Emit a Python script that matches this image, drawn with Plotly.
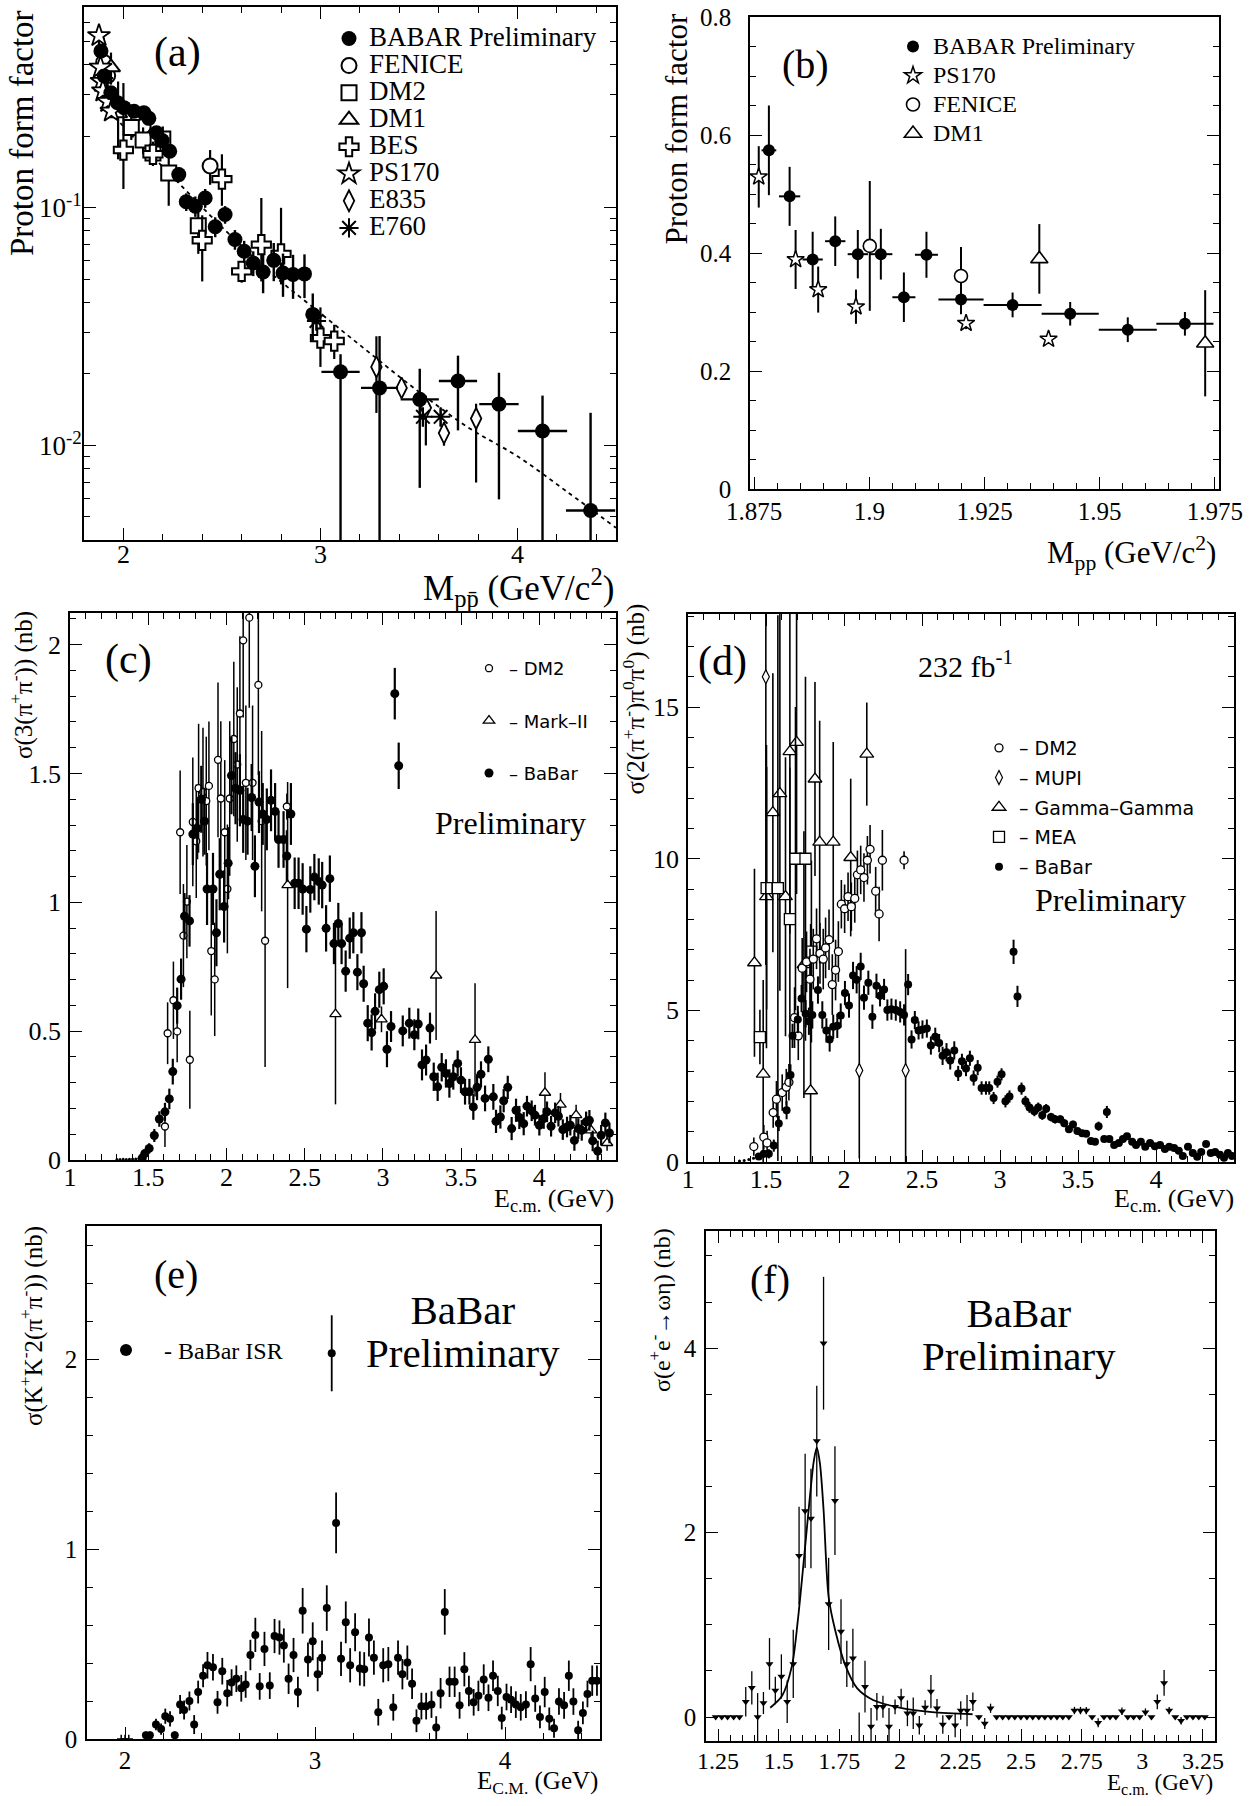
import math
import plotly.graph_objects as go

W, H = 1255, 1806
SERIF = "Liberation Serif"
SANS = "DejaVu Sans"

# ======================= Panel (a) data =======================
a_babar_x = [1.886, 1.903, 1.936, 1.970, 2.003, 2.054, 2.104, 2.129, 2.168, 2.197,
             2.235, 2.281, 2.319, 2.365, 2.415, 2.466, 2.516, 2.566, 2.613, 2.659,
             2.709, 2.763, 2.810, 2.861, 2.919, 2.961, 3.102, 3.300, 3.504, 3.698,
             3.906, 4.127, 4.371]
a_babar_y = [0.457, 0.359, 0.305, 0.277, 0.264, 0.255, 0.251, 0.238, 0.207, 0.192,
             0.173, 0.138, 0.106, 0.1016, 0.110, 0.0832, 0.0937, 0.0736, 0.0656, 0.0586,
             0.0537, 0.0601, 0.0532, 0.0524, 0.0527, 0.0356, 0.0204, 0.01746, 0.01563, 0.01867,
             0.01493, 0.01151, 0.00532]
a_babar_eup = [0.03, 0.025, 0.02, 0.02, 0.018, 0.015, 0.015, 0.014, 0.013, 0.012,
               0.011, 0.01, 0.009, 0.01, 0.01, 0.008, 0.008, 0.007, 0.007, 0.007,
               0.01, 0.011, 0.011, 0.011, 0.011, 0.008, 0.0038, 0.0114, 0.0054, 0.0052,
               0.0053, 0.0047, 0.0084]
a_babar_edn = [0.03, 0.025, 0.02, 0.02, 0.018, 0.015, 0.015, 0.014, 0.013, 0.012,
               0.011, 0.01, 0.009, 0.01, 0.01, 0.008, 0.008, 0.007, 0.007, 0.007,
               0.01, 0.011, 0.011, 0.011, 0.011, 0.008, 0.0174, 0.0145, 0.009, 0.0071,
               0.009, 0.0085, 0.0023]
a_babar_ex = [0, 0, 0, 0, 0, 0, 0, 0, 0, 0,
              0, 0, 0, 0, 0, 0, 0, 0, 0, 0,
              0, 0, 0, 0, 0, 0, 0.097, 0.094, 0.097, 0.097,
              0.1, 0.125, 0.125]

a_fenice_x = [1.90, 1.92, 2.10, 2.44]
a_fenice_y = [0.41, 0.36, 0.22, 0.15]
a_fenice_e = [0.11, 0.05, 0.03, 0.025]

a_dm2_x = [2.04, 2.10, 2.15, 2.20, 2.23, 2.38]
a_dm2_y = [0.218, 0.193, 0.170, 0.195, 0.140, 0.084]
a_dm2_e = [0.025, 0.025, 0.02, 0.025, 0.038, 0.02]

a_dm1_x = [1.937, 1.973]
a_dm1_y = [0.39, 0.25]
a_dm1_e = [0.06, 0.09]

a_bes_x = [2.0, 2.15, 2.4, 2.5, 2.6, 2.7, 2.8, 3.0, 3.07]
a_bes_y = [0.175, 0.168, 0.073, 0.132, 0.054, 0.070, 0.064, 0.0283, 0.0275]
a_bes_eup = [0.16, 0.015, 0.02, 0.036, 0.005, 0.04, 0.036, 0.0098, 0.0047]
a_bes_edn = [0.055, 0.015, 0.024, 0.03, 0.0056, 0.021, 0.0164, 0.0069, 0.0044]

a_ps170_x = [1.876, 1.884, 1.889, 1.896, 1.921, 1.939]
a_ps170_y = [0.53, 0.39, 0.34, 0.31, 0.28, 0.255]
a_ps170_e = [0.05, 0.05, 0.04, 0.03, 0.01, 0.006]

a_e835_x = [3.284, 3.412, 3.535, 3.627, 3.790]
a_e835_y = [0.0214, 0.01746, 0.0144, 0.01127, 0.01298]
a_e835_eup = [0.0074, 0.0015, 0.0018, 0.0013, 0.0020]
a_e835_edn = [0.0077, 0.0015, 0.0044, 0.0013, 0.0060]

a_e760_x = [2.98, 3.52, 3.61]
a_e760_y = [0.0334, 0.0132, 0.0132]
a_e760_e = [0.003, 0.0012, 0.0012]

a_fit_x = [1.88, 2.0, 2.25, 2.5, 2.75, 3.0, 3.25, 3.5, 3.75, 4.0, 4.25, 4.5]
a_fit_y = [0.29, 0.22, 0.135, 0.083, 0.053, 0.036, 0.0245, 0.0168, 0.0119, 0.0090, 0.0064, 0.0045]

# ======================= Panel (b) data =======================
b_babar_x = [1.8782, 1.8827, 1.8877, 1.8926, 1.8975, 1.9025, 1.9075, 1.9124, 1.9199, 1.9311,
             1.9436, 1.9561, 1.9685]
b_babar_y = [0.574, 0.496, 0.389, 0.420, 0.398, 0.398, 0.325, 0.397, 0.321, 0.312,
             0.297, 0.270, 0.280]
b_babar_ey = [0.076, 0.05, 0.047, 0.042, 0.041, 0.043, 0.042, 0.039, 0.025, 0.021,
              0.02, 0.021, 0.02]
b_babar_ex = [0.0016, 0.0023, 0.0022, 0.0022, 0.0022, 0.0025, 0.0025, 0.0025, 0.0049, 0.0063,
              0.0062, 0.0063, 0.0062]
b_ps170_x = [1.8760, 1.8840, 1.8889, 1.8971, 1.9210, 1.9389]
b_ps170_y = [0.529, 0.389, 0.338, 0.309, 0.281, 0.254]
b_ps170_e = [0.052, 0.05, 0.039, 0.029, 0.01, 0.006]
b_fenice_x = [1.9001, 1.9199]
b_fenice_y = [0.412, 0.361]
b_fenice_e = [0.11, 0.049]
b_dm1_x = [1.9369, 1.9729]
b_dm1_y = [0.390, 0.247]
b_dm1_e = [0.059, 0.09]

# ======================= Panel (c) data =======================
c_thr_x = [1.30, 1.32, 1.34, 1.36, 1.38, 1.40, 1.42, 1.44]
c_thr_y = [0.002, 0.002, 0.003, 0.002, 0.003, 0.004, 0.004, 0.006]

c_babar_x = [1.462, 1.478, 1.506, 1.539, 1.571, 1.607, 1.635, 1.657, 1.685, 1.710,
             1.732, 1.764, 1.785, 1.813, 1.839, 1.860, 1.876, 1.914, 1.936, 1.957,
             1.985, 2.011, 2.032, 2.058, 2.086, 2.107, 2.135, 2.161, 2.182, 2.208,
             2.232, 2.258, 2.285, 2.311, 2.333, 2.365, 2.386, 2.412, 2.436, 2.461,
             2.487, 2.511, 2.536, 2.562, 2.590, 2.612, 2.637, 2.661, 2.687, 2.715,
             2.736, 2.762, 2.788, 2.811, 2.837, 2.863, 2.877, 2.903, 2.928, 2.950,
             2.977, 3.005, 3.026, 3.052, 3.076, 3.101, 3.127, 3.169, 3.201, 3.226,
             3.250, 3.276, 3.301, 3.325, 3.350, 3.376, 3.403, 3.425, 3.450, 3.478,
             3.499, 3.525, 3.553, 3.578, 3.602, 3.627, 3.653, 3.674, 3.706, 3.723,
             3.751, 3.772, 3.798, 3.823, 3.851, 3.872, 3.900, 3.921, 3.951, 3.972,
             4.000, 4.028, 4.049, 4.075, 4.101, 4.122, 4.150, 4.177, 4.198, 4.224,
             4.249, 4.271, 4.299, 4.320, 4.341, 4.373, 4.395, 4.422, 4.448]
c_babar_y = [0.008, 0.025, 0.045, 0.095, 0.159, 0.187, 0.237, 0.343, 0.599, 0.702,
             0.946, 0.928, 1.265, 1.287, 1.400, 1.315, 1.052, 1.052, 0.882, 1.109,
             0.984, 1.152, 1.492, 1.443, 1.435, 1.322, 1.315, 1.407, 1.140, 1.389,
             1.343, 1.322, 1.396, 1.353, 1.244, 1.244, 1.180, 1.343, 1.074, 1.074,
             1.052, 0.896, 1.050, 1.098, 1.081, 1.067, 0.899, 1.092, 0.840, 0.918,
             0.840, 0.733, 0.861, 0.882, 0.729, 0.882, 0.684, 0.531, 0.495, 0.577,
             0.661, 0.674, 0.430, 0.518, 1.810, 1.530, 0.501, 0.531, 0.486, 0.528,
             0.369, 0.388, 0.512, 0.323, 0.284, 0.360, 0.336, 0.297, 0.323, 0.375,
             0.310, 0.265, 0.265, 0.206, 0.282, 0.333, 0.239, 0.391, 0.245, 0.150,
             0.167, 0.230, 0.282, 0.122, 0.193, 0.165, 0.141, 0.209, 0.191, 0.174,
             0.135, 0.161, 0.187, 0.131, 0.183, 0.170, 0.118, 0.128, 0.135, 0.076,
             0.122, 0.115, 0.148, 0.154, 0.074, 0.035, 0.096, 0.144, 0.105]
c_babar_e = [0.01, 0.015, 0.02, 0.025, 0.03, 0.035, 0.04, 0.05, 0.07, 0.08,
             0.09, 0.1, 0.12, 0.12, 0.13, 0.13, 0.14, 0.14, 0.13, 0.14,
             0.14, 0.14, 0.15, 0.14, 0.14, 0.13, 0.13, 0.13, 0.12, 0.12,
             0.12, 0.12, 0.12, 0.11, 0.11, 0.11, 0.1, 0.12, 0.1, 0.1,
             0.1, 0.09, 0.09, 0.09, 0.09, 0.09, 0.09, 0.09, 0.08, 0.08,
             0.08, 0.08, 0.08, 0.08, 0.07, 0.08, 0.07, 0.07, 0.07, 0.07,
             0.07, 0.07, 0.07, 0.06, 0.1, 0.09, 0.06, 0.06, 0.06, 0.06,
             0.06, 0.06, 0.06, 0.055, 0.055, 0.055, 0.055, 0.055, 0.05, 0.05,
             0.05, 0.05, 0.05, 0.05, 0.05, 0.05, 0.05, 0.05, 0.05, 0.045,
             0.045, 0.045, 0.045, 0.045, 0.045, 0.045, 0.045, 0.04, 0.04, 0.04,
             0.04, 0.04, 0.04, 0.04, 0.04, 0.04, 0.04, 0.04, 0.04, 0.04,
             0.04, 0.04, 0.04, 0.04, 0.04, 0.04, 0.04, 0.04, 0.04]

c_dm2_x = [1.607, 1.624, 1.661, 1.685, 1.704, 1.725, 1.747, 1.766, 1.785, 1.807,
           1.822, 1.850, 1.871, 1.888, 1.903, 1.925, 1.946, 1.964, 1.989, 2.006,
           2.021, 2.047, 2.069, 2.086, 2.107, 2.124, 2.146, 2.167, 2.204, 2.225,
           2.247, 2.386]
c_dm2_y = [0.130, 0.492, 0.620, 0.499, 1.272, 0.871, 1.003, 0.389, 1.312, 1.237,
           1.443, 1.428, 1.393, 1.452, 0.811, 0.701, 1.553, 1.403, 1.272, 1.052,
           1.403, 1.634, 1.535, 1.733, 2.017, 1.464, 2.105, 1.464, 1.844, 1.315,
           0.851, 1.372]
c_dm2_e = [0.08, 0.12, 0.15, 0.12, 0.24, 0.2, 0.22, 0.19, 0.25, 0.22,
           0.25, 0.25, 0.25, 0.25, 0.25, 0.22, 0.3, 0.3, 0.28, 0.25,
           0.3, 0.3, 0.3, 0.3, 0.3, 0.3, 0.35, 0.3, 0.35, 0.35,
           0.49, 0.05]

c_mk2_x = [2.391, 2.697, 2.991, 3.340, 3.589, 4.036, 4.135, 4.235, 4.331, 4.433]
c_mk2_y = [1.067, 0.566, 0.546, 0.716, 0.466, 0.261, 0.215, 0.174, 0.115, 0.066]
c_mk2_e = [0.4, 0.35, 0.05, 0.25, 0.22, 0.08, 0.045, 0.04, 0.03, 0.03]

# ======================= Panel (d) data =======================
d_thr_x = [1.33, 1.36, 1.39, 1.42]
d_thr_y = [0.03, 0.05, 0.08, 0.12]

d_babar_x = [1.454, 1.486, 1.518, 1.550, 1.582, 1.632, 1.657, 1.670, 1.704, 1.728,
             1.754, 1.775, 1.797, 1.833, 1.861, 1.887, 1.908, 1.931, 1.957, 1.979,
             2.006, 2.032, 2.058, 2.081, 2.107, 2.128, 2.156, 2.182, 2.208, 2.231,
             2.257, 2.278, 2.304, 2.332, 2.360, 2.385, 2.411, 2.433, 2.454, 2.478,
             2.503, 2.531, 2.557, 2.585, 2.610, 2.632, 2.657, 2.681, 2.707, 2.732,
             2.756, 2.782, 2.807, 2.831, 2.857, 2.882, 2.910, 2.931, 2.959, 2.984,
             3.010, 3.035, 3.061, 3.087, 3.112, 3.138, 3.163, 3.189, 3.220, 3.245,
             3.271, 3.296, 3.327, 3.353, 3.386, 3.412, 3.442, 3.468, 3.496, 3.527,
             3.552, 3.583, 3.609, 3.632, 3.668, 3.685, 3.701, 3.732, 3.762, 3.788,
             3.814, 3.847, 3.872, 3.903, 3.931, 3.962, 3.993, 4.026, 4.057, 4.085,
             4.116, 4.146, 4.172, 4.205, 4.236, 4.264, 4.290, 4.321, 4.351, 4.379,
             4.410, 4.436, 4.461, 4.487]
d_babar_y = [0.18, 0.27, 0.27, 0.54, 1.27, 1.71, 2.87, 4.16, 4.70, 5.39,
             4.89, 4.64, 4.85, 5.67, 4.85, 4.34, 4.04, 4.46, 4.49, 4.83,
             5.57, 5.16, 6.15, 6.01, 6.45, 5.42, 5.91, 4.79, 5.81, 5.48,
             5.69, 5.01, 5.04, 5.01, 4.95, 4.85, 5.85, 4.04, 4.68, 4.34,
             4.37, 4.40, 3.84, 4.13, 3.92, 3.50, 3.62, 3.35, 3.68, 2.92,
             3.32, 3.08, 3.42, 2.77, 3.11, 2.44, 2.44, 2.44, 2.11, 2.65,
             2.89, 2.00, 2.16, 6.93, 5.46, 2.42, 2.00, 1.80, 1.67, 1.80,
             1.54, 1.76, 1.48, 1.41, 1.41, 1.28, 1.08, 1.24, 1.02, 0.95,
             0.93, 0.69, 0.67, 1.18, 0.76, 1.65, 0.76, 0.56, 0.63, 0.76,
             0.85, 0.67, 0.56, 0.67, 0.50, 0.63, 0.52, 0.56, 0.43, 0.50,
             0.46, 0.37, 0.20, 0.50, 0.30, 0.17, 0.33, 0.59, 0.30, 0.33,
             0.24, 0.14, 0.30, 0.20]
d_babar_e = [0.1, 0.12, 0.15, 0.2, 0.25, 0.3, 0.35, 0.4, 0.45, 0.45,
             0.45, 0.45, 0.45, 0.45, 0.45, 0.4, 0.4, 0.4, 0.4, 0.4,
             0.4, 0.4, 0.45, 0.45, 0.45, 0.4, 0.4, 0.4, 0.4, 0.35,
             0.35, 0.35, 0.35, 0.35, 0.35, 0.35, 0.35, 0.3, 0.3, 0.3,
             0.3, 0.3, 0.3, 0.3, 0.3, 0.3, 0.3, 0.3, 0.3, 0.25,
             0.25, 0.25, 0.25, 0.25, 0.25, 0.22, 0.22, 0.22, 0.2, 0.2,
             0.2, 0.2, 0.2, 0.4, 0.35, 0.2, 0.18, 0.18, 0.16, 0.16,
             0.15, 0.15, 0.14, 0.14, 0.13, 0.13, 0.12, 0.12, 0.11, 0.11,
             0.1, 0.1, 0.1, 0.15, 0.1, 0.2, 0.1, 0.09, 0.09, 0.09,
             0.09, 0.08, 0.08, 0.08, 0.08, 0.08, 0.08, 0.07, 0.07, 0.07,
             0.07, 0.07, 0.07, 0.07, 0.07, 0.07, 0.07, 0.07, 0.07, 0.07,
             0.07, 0.07, 0.07, 0.07]

d_dm2_x = [1.422, 1.486, 1.507, 1.546, 1.567, 1.604, 1.630, 1.647, 1.683, 1.707,
           1.732, 1.760, 1.782, 1.803, 1.824, 1.846, 1.867, 1.882, 1.904, 1.925,
           1.946, 1.964, 1.983, 2.004, 2.026, 2.047, 2.069, 2.086, 2.107, 2.128,
           2.150, 2.167, 2.203, 2.225, 2.246, 2.385]
d_dm2_y = [0.51, 0.82, 0.63, 1.63, 2.07, 2.29, 2.47, 2.63, 4.76, 4.16,
           6.39, 6.60, 6.03, 6.69, 7.36, 6.88, 6.69, 7.06, 7.33, 5.85,
           6.33, 6.94, 8.50, 8.35, 8.75, 8.42, 8.69, 9.47, 9.63, 9.38,
           9.95, 10.31, 8.93, 8.18, 9.95, 9.95]
d_dm2_e = [0.3, 0.4, 0.4, 0.5, 0.6, 0.6, 0.6, 0.6, 1.0, 0.8,
           1.0, 1.0, 1.0, 1.0, 1.0, 1.0, 1.0, 1.0, 1.0, 1.0,
           1.0, 1.0, 0.8, 0.8, 0.8, 0.8, 0.8, 0.8, 0.8, 0.8,
           0.8, 0.8, 0.8, 0.9, 1.0, 0.3]

d_mupi_x = [1.499, 2.098, 2.395]
d_mupi_y = [16.0, 3.02, 3.02]
d_mupi_e = [9.5, 2.9, 4.0]

d_gg_x = [1.426, 1.482, 1.503, 1.544, 1.589, 1.625, 1.653, 1.696, 1.743, 1.786,
          1.814, 1.844, 1.931, 2.043, 2.146]
d_gg_y = [6.57, 2.9, 8.75, 11.52, 12.15, 8.75, 13.53, 13.84, 6.51, 2.35,
          12.63, 10.55, 10.55, 10.04, 13.45]
d_gg_e = [3.1, 3.1, 5.0, 4.6, 6.5, 4.6, 6.0, 5.0, 4.4, 5.5,
          3.2, 4.0, 3.3, 2.6, 1.7]

d_mea_x = [1.461, 1.504, 1.576, 1.653, 1.689, 1.753, 1.791]
d_mea_y = [4.12, 9.03, 9.03, 8.01, 10.0, 10.0, 6.94]
d_mea_e = [0.9, 4.0, 9.0, 5.0, 5.0, 6.0, 3.0]

# ======================= Panel (e) data =======================
e_thr_x = [1.98, 2.0, 2.02]
e_thr_y = [0.0, 0.0, 0.0]

e_babar_x = [2.11, 2.131, 2.163, 2.19, 2.212, 2.237, 2.262, 2.29, 2.311, 2.339,
             2.364, 2.385, 2.411, 2.434, 2.463, 2.487, 2.512, 2.538, 2.561, 2.586,
             2.612, 2.635, 2.66, 2.686, 2.709, 2.734, 2.762, 2.787, 2.813, 2.836,
             2.861, 2.887, 2.91, 2.935, 2.963, 2.988, 3.014, 3.037, 3.062, 3.088,
             3.111, 3.137, 3.162, 3.185, 3.211, 3.236, 3.259, 3.284, 3.31, 3.333,
             3.359, 3.386, 3.412, 3.437, 3.46, 3.486, 3.511, 3.534, 3.56, 3.585,
             3.613, 3.638, 3.661, 3.683, 3.708, 3.735, 3.761, 3.786, 3.81, 3.835,
             3.86, 3.888, 3.913, 3.937, 3.962, 3.983, 4.008, 4.032, 4.057, 4.083,
             4.11, 4.135, 4.159, 4.184, 4.209, 4.233, 4.258, 4.284, 4.311, 4.336,
             4.36, 4.385, 4.41, 4.434, 4.459, 4.484]
e_babar_y = [0.02, 0.02, 0.076, 0.052, 0.12, 0.106, 0.02, 0.181, 0.153, 0.20,
             0.076, 0.247, 0.333, 0.388, 0.378, 0.193, 0.357, 0.241, 0.297, 0.317,
             0.267, 0.287, 0.442, 0.548, 0.277, 0.474, 0.281, 0.542, 0.534, 0.492,
             0.317, 0.442, 0.247, 0.675, 0.418, 0.514, 0.341, 0.428, 0.689, 2.03,
             1.137, 0.422, 0.614, 0.388, 0.562, 0.371, 0.367, 0.534, 0.428, 0.141,
             0.388, 0.394, 0.167, 0.428, 0.341, 0.402, 0.291, 0.096, 0.173, 0.173,
             0.181, 0.060, 0.241, 0.669, 0.301, 0.301, 0.177, 0.367, 0.253, 0.193,
             0.227, 0.313, 0.217, 0.333, 0.253, 0.110, 0.221, 0.207, 0.181, 0.167,
             0.181, 0.394, 0.213, 0.116, 0.247, 0.106, 0.056, 0.197, 0.177, 0.333,
             0.197, 0.046, 0.137, 0.237, 0.307, 0.307]
e_babar_e = [0.02, 0.02, 0.03, 0.03, 0.04, 0.04, 0.02, 0.05, 0.05, 0.05,
             0.05, 0.06, 0.06, 0.07, 0.07, 0.06, 0.07, 0.07, 0.07, 0.07,
             0.07, 0.07, 0.08, 0.09, 0.07, 0.09, 0.07, 0.09, 0.09, 0.09,
             0.08, 0.09, 0.08, 0.12, 0.09, 0.1, 0.09, 0.09, 0.12, 0.2,
             0.16, 0.09, 0.11, 0.09, 0.1, 0.09, 0.09, 0.1, 0.09, 0.07,
             0.09, 0.09, 0.07, 0.09, 0.08, 0.09, 0.08, 0.06, 0.07, 0.07,
             0.07, 0.06, 0.08, 0.12, 0.08, 0.08, 0.07, 0.09, 0.08, 0.07,
             0.08, 0.08, 0.07, 0.08, 0.08, 0.06, 0.07, 0.07, 0.07, 0.07,
             0.07, 0.09, 0.07, 0.06, 0.08, 0.06, 0.05, 0.07, 0.07, 0.08,
             0.07, 0.05, 0.06, 0.07, 0.08, 0.08]

# ======================= Panel (f) data =======================
f_x = [1.240, 1.265, 1.289, 1.314, 1.338, 1.364, 1.389, 1.413, 1.437, 1.462,
       1.486, 1.511, 1.535, 1.560, 1.584, 1.609, 1.633, 1.657, 1.685, 1.706,
       1.732, 1.757, 1.781, 1.806, 1.832, 1.856, 1.881, 1.905, 1.930, 1.955,
       1.980, 2.005, 2.031, 2.055, 2.080, 2.104, 2.128, 2.153, 2.177, 2.203,
       2.228, 2.251, 2.277, 2.301, 2.326, 2.350, 2.374, 2.399, 2.424, 2.449,
       2.474, 2.499, 2.524, 2.548, 2.573, 2.598, 2.623, 2.648, 2.672, 2.697,
       2.720, 2.745, 2.769, 2.793, 2.818, 2.842, 2.867, 2.891, 2.916, 2.940,
       2.964, 2.989, 3.013, 3.038, 3.062, 3.090, 3.111, 3.136, 3.160, 3.184,
       3.209, 3.233, 3.258]
f_y = [0, 0, 0, 0, 0, 0.165, 0.317, 0.0, 0.152, 0.576,
       0.288, 0.44, 0.165, 0.576, 1.749, 2.235, 2.152, 2.992, 4.053, 1.226,
       2.346, 0.926, 0.576, 0.638, -0.30, 0.329, -0.103, 0.111, 0.111, -0.103,
       0.111, 0.206, 0.041, 0.041, -0.09, 0.103, 0.276, 0.095, -0.082, 0.0,
       -0.09, 0.07, 0.07, 0.165, 0.0, -0.07, 0.095, 0, 0, 0,
       0, 0, 0, 0, 0, 0, 0, 0, 0, 0,
       0.07, 0.07, 0.07, 0.0, -0.062, 0, 0, 0, 0.062, 0,
       0, 0, 0.053, 0, 0.165, 0.37, 0.07, 0, -0.04, 0,
       0, 0, 0]
f_e = [0, 0, 0, 0, 0, 0.16, 0.18, 0.26, 0.12, 0.28,
       0.15, 0.24, 0.23, 0.37, 0.53, 0.62, 0.54, 0.6, 0.72, 0.5,
       0.59, 0.35, 0.25, 0.32, 0.35, 0.28, 0.2, 0.15, 0.12, 0.2,
       0.08, 0.1, 0.14, 0.17, 0.1, 0.08, 0.18, 0.1, 0.1, 0.02,
       0.13, 0.1, 0.17, 0.1, 0.02, 0.06, 0.05, 0, 0, 0,
       0, 0, 0, 0, 0, 0, 0, 0, 0, 0,
       0.04, 0.04, 0.04, 0, 0.05, 0, 0, 0, 0.04, 0,
       0, 0, 0.04, 0, 0.08, 0.14, 0.04, 0, 0.04, 0,
       0, 0, 0]
f_fit_x = [1.465, 1.514, 1.555, 1.579, 1.604, 1.628, 1.645, 1.657, 1.670, 1.685,
           1.706, 1.734, 1.775, 1.824, 1.889, 2.003, 2.133, 2.30]
f_fit_y = [0.10, 0.23, 0.56, 1.05, 1.71, 2.37, 2.78, 2.92, 2.75, 2.25,
           1.30, 0.93, 0.56, 0.31, 0.185, 0.10, 0.053, 0.03]

# ======================= layout helpers =======================
# panel frames in pixels: (left, right, top, bottom)
PANEL = {
    "a": (84, 616, 7, 540),
    "b": (750, 1219, 17, 489),
    "c": (70, 616, 613, 1160),
    "d": (688, 1234, 614, 1162),
    "e": (87, 600, 1226, 1739),
    "f": (706, 1215, 1231, 1741),
}


def xdom(p):
    return [PANEL[p][0] / W, PANEL[p][1] / W]


def ydom(p):
    return [1 - PANEL[p][3] / H, 1 - PANEL[p][2] / H]


def axis(dom, rng, tickvals, ticktext, fs, minor, anchor, mirror="ticks", typ="linear",
         ticklen=12, standoff=0):
    d = dict(domain=dom, range=rng, type=typ, tickmode="array", tickvals=tickvals, ticktext=ticktext,
             ticks="inside", ticklen=ticklen, tickwidth=1.3, tickcolor="black",
             showline=True, linecolor="black", linewidth=1.6, mirror=mirror,
             showgrid=False, zeroline=False, anchor=anchor, fixedrange=True, automargin=False,
             ticklabelstandoff=standoff,
             tickfont=dict(family=SERIF, size=fs, color="black"))
    m = dict(ticks="inside", ticklen=6, tickwidth=1.1, tickcolor="black", showgrid=False)
    m.update(minor)
    d["minor"] = m
    return d


fig = go.Figure()


def pts(x, y, xa, ya, symbol, size, fill, lw, ey=None, eym=None, ex=None, eth=1.6,
        name=None, legend=None, rank=None, group=None):
    tr = dict(x=x, y=y, mode="markers", xaxis=xa, yaxis=ya,
              marker=dict(symbol=symbol, size=size, color=fill, line=dict(color="black", width=lw)),
              showlegend=name is not None, hoverinfo="skip")
    if name is not None:
        tr["name"] = name
        tr["legend"] = legend
        if rank is not None:
            tr["legendrank"] = rank
        if group is not None:
            tr["legendgroup"] = group
    if ey is not None:
        e = dict(type="data", array=ey, color="black", thickness=eth, width=0, visible=True)
        if eym is not None:
            e["symmetric"] = False
            e["arrayminus"] = eym
        tr["error_y"] = e
    if ex is not None:
        tr["error_x"] = dict(type="data", array=ex, color="black", thickness=eth, width=0, visible=True)
    fig.add_trace(go.Scatter(**tr))


def big(label, px):
    return '<span style="font-size:%dpx">%s</span>' % (px, label)


# ---------------- panel (a) traces ----------------
fig.add_trace(go.Scatter(x=a_fit_x, y=a_fit_y, mode="lines", xaxis="x", yaxis="y",
                         line=dict(color="black", width=1.8, dash="4px,4px", shape="spline"),
                         showlegend=False, hoverinfo="skip"))
pts(a_fenice_x, a_fenice_y, "x", "y", "circle", 15, "white", 2, ey=a_fenice_e, eth=2.2,
    name=big("FENICE", 27), legend="legend", rank=2)
pts(a_dm2_x, a_dm2_y, "x", "y", "square", 15, "white", 2, ey=a_dm2_e, eth=2.2,
    name=big("DM2", 27), legend="legend", rank=3)
pts(a_dm1_x, a_dm1_y, "x", "y", "triangle-up", 16, "white", 2, ey=a_dm1_e, eth=2.2,
    name=big("DM1", 27), legend="legend", rank=4)
pts(a_bes_x, a_bes_y, "x", "y", "cross", 16, "white", 2, ey=a_bes_eup, eym=a_bes_edn, eth=2.2,
    name=big("BES", 27), legend="legend", rank=5)
pts(a_ps170_x, a_ps170_y, "x", "y", "star", 17, "white", 1.8, ey=a_ps170_e, eth=2.2,
    name=big("PS170", 27), legend="legend", rank=6)
pts(a_e835_x, a_e835_y, "x", "y", "diamond-tall", 15, "white", 1.8, ey=a_e835_eup, eym=a_e835_edn, eth=2.2,
    name=big("E835", 27), legend="legend", rank=7)
pts(a_e760_x, a_e760_y, "x", "y", "asterisk-open", 16, "black", 2, ey=a_e760_e, eth=2.2,
    name=big("E760", 27), legend="legend", rank=8)
pts(a_babar_x, a_babar_y, "x", "y", "circle", 15, "black", 0, ey=a_babar_eup, eym=a_babar_edn,
    ex=a_babar_ex, eth=2.4, name=big("BABAR Preliminary", 27), legend="legend", rank=1)

# ---------------- panel (b) traces ----------------
pts(b_ps170_x, b_ps170_y, "x2", "y2", "star", 13, "white", 1.5, ey=b_ps170_e, eth=2,
    name=big("PS170", 24), legend="legend2", rank=2)
pts(b_fenice_x, b_fenice_y, "x2", "y2", "circle", 13, "white", 1.6, ey=b_fenice_e, eth=2,
    name=big("FENICE", 24), legend="legend2", rank=3)
pts(b_dm1_x, b_dm1_y, "x2", "y2", "triangle-up", 15, "white", 1.6, ey=b_dm1_e, eth=2,
    name=big("DM1", 24), legend="legend2", rank=4)
pts(b_babar_x, b_babar_y, "x2", "y2", "circle", 12, "black", 0, ey=b_babar_ey, ex=b_babar_ex, eth=2,
    name=big("BABAR Preliminary", 24), legend="legend2", rank=1)

# ---------------- panel (c) traces ----------------
pts(c_thr_x, c_thr_y, "x3", "y3", "circle", 3, "black", 0)
pts(c_mk2_x, c_mk2_y, "x3", "y3", "triangle-up", 10, "white", 1.3, ey=c_mk2_e, eth=1.5,
    name="\u2013 Mark\u2013II", legend="legend3", rank=2, group="c2")
pts(c_dm2_x, c_dm2_y, "x3", "y3", "circle", 7, "white", 1.3, ey=c_dm2_e, eth=1.5,
    name="\u2013 DM2", legend="legend3", rank=1, group="c1")
pts(c_babar_x, c_babar_y, "x3", "y3", "circle", 9, "black", 0, ey=c_babar_e, eth=2.2,
    name="\u2013 BaBar", legend="legend3", rank=3, group="c3")

# ---------------- panel (d) traces ----------------
pts(d_thr_x, d_thr_y, "x4", "y4", "circle", 3, "black", 0)
pts(d_gg_x, d_gg_y, "x4", "y4", "triangle-up", 12, "white", 1.3, ey=d_gg_e, eth=1.6,
    name="\u2013 Gamma\u2013Gamma", legend="legend4", rank=3, group="d3")
pts(d_mea_x, d_mea_y, "x4", "y4", "square", 11, "white", 1.3, ey=d_mea_e, eth=1.6,
    name="\u2013 MEA", legend="legend4", rank=4, group="d4")
pts(d_mupi_x, d_mupi_y, "x4", "y4", "diamond-tall", 10, "white", 1.2, ey=d_mupi_e, eth=1.6,
    name="\u2013 MUPI", legend="legend4", rank=2, group="d2")
pts(d_dm2_x, d_dm2_y, "x4", "y4", "circle", 8, "white", 1.3, ey=d_dm2_e, eth=1.6,
    name="\u2013 DM2", legend="legend4", rank=1, group="d1")
pts(d_babar_x, d_babar_y, "x4", "y4", "circle", 8, "black", 0, ey=d_babar_e, eth=2,
    name="\u2013 BaBar", legend="legend4", rank=5, group="d5")

# ---------------- panel (e) traces ----------------
pts(e_thr_x, e_thr_y, "x5", "y5", "cross-thin-open", 6, "black", 1.5)
pts(e_babar_x, e_babar_y, "x5", "y5", "circle", 8, "black", 0, ey=e_babar_e, eth=1.8,
    name="\u00a0\u00a0\u00a0- BaBar ISR", legend="legend5", rank=1)

# ---------------- panel (f) traces ----------------
fig.add_trace(go.Scatter(x=f_fit_x, y=f_fit_y, mode="lines", xaxis="x6", yaxis="y6",
                         line=dict(color="black", width=1.8, shape="spline", smoothing=0.8),
                         showlegend=False, hoverinfo="skip"))
pts(f_x, f_y, "x6", "y6", "triangle-down", 7, "black", 0, ey=f_e, eth=1.3)

# ======================= axes =======================
log_minor = [0.004, 0.005, 0.006, 0.007, 0.008, 0.009,
             0.02, 0.03, 0.04, 0.05, 0.06, 0.07, 0.08, 0.09,
             0.2, 0.3, 0.4, 0.5, 0.6, 0.7]
lay = dict(
    xaxis=axis(xdom("a"), [1.8, 4.5], [2, 3, 4], ["2", "3", "4"], 26,
               dict(tickmode="linear", tick0=0, dtick=0.2), "y", standoff=-10),
    yaxis=axis(ydom("a"), [math.log10(0.004), math.log10(0.7)], [0.01, 0.1],
               ["10<sup>-2</sup>", "10<sup>-1</sup>"], 27,
               dict(tickmode="array", tickvals=log_minor), "x", typ="log", standoff=-5),
    xaxis2=axis(xdom("b"), [1.8741, 1.9759], [1.875, 1.9, 1.925, 1.95, 1.975],
                ["1.875", "1.9", "1.925", "1.95", "1.975"], 25,
                dict(tickmode="linear", tick0=1.875, dtick=0.005), "y2", mirror=True, standoff=-1),
    yaxis2=axis(ydom("b"), [0, 0.8], [0, 0.2, 0.4, 0.6, 0.8], ["0", "0.2", "0.4", "0.6", "0.8"], 25,
                dict(tickmode="linear", tick0=0, dtick=0.05), "x2", standoff=12),
    xaxis3=axis(xdom("c"), [1, 4.49], [1, 1.5, 2, 2.5, 3, 3.5, 4],
                ["1", "1.5", "2", "2.5", "3", "3.5", "4"], 26,
                dict(tickmode="linear", tick0=1, dtick=0.1), "y3", standoff=-7),
    yaxis3=axis(ydom("c"), [0, 2.123], [0, 0.5, 1, 1.5, 2], ["0", "0.5", "1", "1.5", "2"], 26,
                dict(tickmode="linear", tick0=0, dtick=0.1), "x3", standoff=2),
    xaxis4=axis(xdom("d"), [1, 4.5], [1, 1.5, 2, 2.5, 3, 3.5, 4],
                ["1", "1.5", "2", "2.5", "3", "3.5", "4"], 26,
                dict(tickmode="linear", tick0=1, dtick=0.1), "y4", standoff=-7),
    yaxis4=axis(ydom("d"), [0, 18.07], [0, 5, 10, 15], ["0", "5", "10", "15"], 26,
                dict(tickmode="linear", tick0=0, dtick=1), "x4", standoff=2),
    xaxis5=axis(xdom("e"), [1.8, 4.5], [2, 3, 4], ["2", "3", "4"], 25,
                dict(tickmode="linear", tick0=0, dtick=0.2), "y5", mirror=True, standoff=-2),
    yaxis5=axis(ydom("e"), [0, 2.7], [0, 1, 2], ["0", "1", "2"], 25,
                dict(tickmode="linear", tick0=0, dtick=0.2), "x5", standoff=3),
    xaxis6=axis(xdom("f"), [1.2, 3.3], [1.25, 1.5, 1.75, 2, 2.25, 2.5, 2.75, 3, 3.25],
                ["1.25", "1.5", "1.75", "2", "2.25", "2.5", "2.75", "3", "3.25"], 24,
                dict(tickmode="linear", tick0=1.25, dtick=0.05), "y6", standoff=-3),
    yaxis6=axis(ydom("f"), [-0.26, 5.27], [0, 2, 4], ["0", "2", "4"], 25,
                dict(tickmode="linear", tick0=0, dtick=0.5), "x6", standoff=3),
)


def leg(x_px, y_px, fam, fs, gap=0, sizing="trace"):
    return dict(x=x_px / W, y=1 - y_px / H, xanchor="left", yanchor="top",
                bgcolor="rgba(0,0,0,0)", borderwidth=0, tracegroupgap=gap,
                itemsizing=sizing, itemclick=False, itemdoubleclick=False,
                font=dict(family=fam, size=fs, color="black"))


lay["legend"] = leg(329, 20, SERIF, 18.5)
lay["legend2"] = leg(893, 27, SERIF, 20)
lay["legend3"] = leg(469, 650, SANS, 18, gap=26)
lay["legend4"] = leg(979, 729, SANS, 19, gap=2)
lay["legend5"] = leg(106, 1328, SERIF, 24, sizing="constant")


def ann(text, x, y, size, fam=SERIF, xa="center", ya="middle", angle=0):
    return dict(text=text, x=x / W, y=1 - y / H, xref="paper", yref="paper", showarrow=False,
                xanchor=xa, yanchor=ya, textangle=angle,
                font=dict(family=fam, size=size, color="black"))


two_line = big("BaBar", 41) + "<br>" + big("Preliminary", 41)

annotations = [
    ann("(a)", 177, 52, 42), ann("(b)", 805, 64, 40), ann("(c)", 128, 659, 42),
    ann("(d)", 722, 661, 42), ann("(e)", 176, 1274, 40), ann("(f)", 770, 1279, 40),
    ann("Preliminary", 510, 823, 32),
    ann("232 fb<sup>-1</sup>", 965, 664, 30),
    ann("Preliminary", 1110, 900, 32),
    ann(two_line, 463, 1331, 33),
    ann(two_line, 1019, 1334, 33),
    # y titles
    ann("Proton form factor", 22, 8, 33, ya="top", angle=-90),
    ann("Proton form factor", 676, 12, 31, ya="top", angle=-90),
    ann("\u03c3(3(\u03c0<sup>+</sup>\u03c0<sup>-</sup>)) (nb)", 22, 609, 25, ya="top", angle=-90),
    ann("\u03c3(2(\u03c0<sup>+</sup>\u03c0<sup>-</sup>)\u03c0<sup>0</sup>\u03c0<sup>0</sup>) (nb)",
        634, 602, 25, ya="top", angle=-90),
    ann("\u03c3(K<sup>+</sup>K<sup>-</sup>2(\u03c0<sup>+</sup>\u03c0<sup>-</sup>)) (nb)",
        31, 1224, 25, ya="top", angle=-90),
    ann("\u03c3(e<sup>+</sup>e<sup>-</sup>\u2192\u03c9\u03b7) (nb)", 660, 1226, 24, ya="top", angle=-90),
    # x titles
    ann("M<sub>pp\u0304</sub> (GeV/c<sup>2</sup>)", 616, 587, 35, xa="right"),
    ann("M<sub>pp</sub> (GeV/c<sup>2</sup>)", 1218, 553, 31, xa="right"),
    ann("E<sub>c.m.</sub> (GeV)", 616, 1200, 26, xa="right"),
    ann("E<sub>c.m.</sub> (GeV)", 1236, 1200, 26, xa="right"),
    ann("E<sub>C.M.</sub> (GeV)", 600, 1782, 25, xa="right"),
    ann("E<sub>c.m.</sub> (GeV)", 1215, 1784, 23, xa="right"),
]

fig.update_layout(
    template="none",
    width=W, height=H, margin=dict(l=0, r=0, t=0, b=0, pad=0),
    paper_bgcolor="white", plot_bgcolor="white",
    showlegend=True, annotations=annotations,
    font=dict(family=SERIF, color="black"),
    **lay,
)

fig.write_html("out.html", config={"displayModeBar": False, "responsive": False},
               post_script="document.body.style.margin='0px';document.body.style.overflow='hidden';")
